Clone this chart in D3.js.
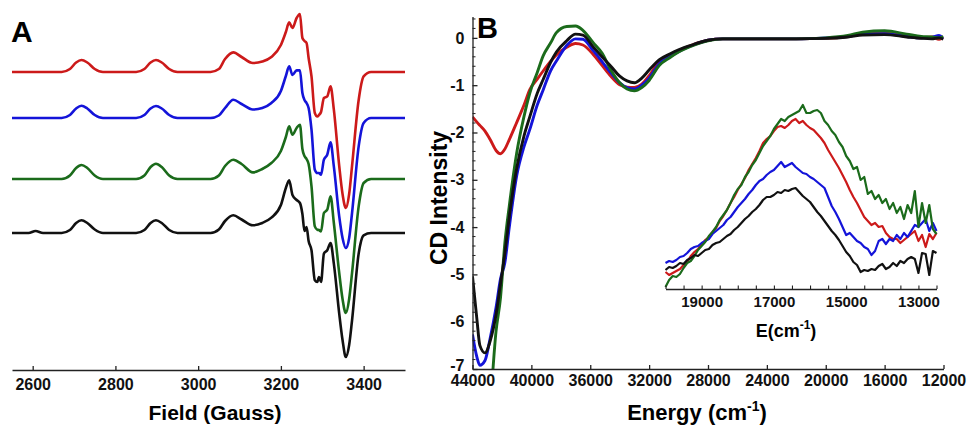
<!DOCTYPE html>
<html>
<head>
<meta charset="utf-8">
<script src="https://cdn.jsdelivr.net/npm/d3@7"></script>
<style>
  body { margin: 0; background: #fff; }
  svg { font-family: "Liberation Sans", Arial, sans-serif; font-weight: bold; }
</style>
</head>
<body>
<svg width="968" height="425"></svg>
<script>
// ---- panel A: EPR spectra (field in Gauss, intensity in a.u. above each baseline)
const eprField = [2550, 2590, 2607, 2625, 2670, 2690, 2705, 2718, 2732, 2750, 2770,
  2850, 2870, 2885, 2898, 2912, 2930, 2950, 3030, 3050, 3065, 3085, 3105, 3132, 3155,
  3177, 3200, 3212, 3220, 3228, 3238, 3246, 3252, 3257, 3262, 3267, 3274, 3282, 3288,
  3292, 3297, 3304, 3312, 3320, 3328, 3341, 3349, 3357, 3365, 3372, 3388, 3400, 3418,
  3440, 3500];
const eprRed = [0, 0, 0, 0, 0, 3, 9.5, 12, 9.5, 3, 0,
  0, 3, 9.5, 12, 9.5, 3, 0, 0, 3, 13, 19.6, 15, 9, 10.5,
  15, 27, 40, 49.6, 44, 54, 58, 34, 31, 29, 14, -4.4, -41, -44.4,
  -43, -40, -26, -24.4, -14.4, -37.7, -94, -122, -136, -122, -94, -28, -4.4, 0,
  0, 0];
const eprBlue = [0, 0, 0, 0, 0, 3, 9.5, 12.3, 9.5, 3, 0,
  0, 3, 9.5, 12, 9.5, 3, 0, 0, 2.5, 10, 18.3, 14, 8.5, 10,
  15, 27, 42, 51.6, 43, 47.6, 47.6, 25, 18, 15, 10, -11.7, -51.7, -55,
  -55, -56.7, -41.7, -36.7, -24.4, -48.4, -98.4, -120, -130, -120, -95, -28.4, -5, 0,
  0, 0];
const eprGreen = [0, 0, 0, 0, 0, 3.5, 11, 14, 11, 3.5, 0,
  0, 3.5, 12, 15.3, 12, 3.5, 0, 0, 3.5, 13, 19.3, 15, 6.6, 10,
  16, 28, 42, 52.6, 44.3, 51, 54.3, 30, 23, 20, 15, -7.4, -47.4, -50.7,
  -51, -52.4, -34, -30.7, -17.4, -44, -94, -120, -134, -120, -94, -27.4, -4, 0,
  0, 0];
const eprBlack = [0, 0, 2, 0, 0, 3, 10, 12.7, 10, 3.5, 0,
  0, 3, 10, 12.7, 10, 3, 0, 0, 3.5, 12, 17.7, 13.5, 7.7, 10,
  15.4, 28, 45, 52.7, 38, 33, 30, 19, 2, 6, -8, -17.3, -47.3, -49,
  -44, -49, -20.6, -17.3, -10, -30.6, -80.6, -107, -124, -112, -87.3, -20.6, -2.3, 0,
  0, 0];
const eprOffsets = [298, 252, 191, 137];   // red, blue, green, black
const eprTicks = [2600, 2800, 3000, 3200, 3400];

// ---- panel B: CD spectra (energy in cm-1)
const cdEnergy = [44000, 43700, 43500, 43150, 42800, 42400, 42100, 41800, 41500, 41000,
  40500, 40100, 39600, 39200, 38700, 38300, 37600, 37000, 36500, 35800, 35200, 34600,
  34000, 33500, 33000, 32500, 32000, 31300, 30600, 30000, 29000, 28000, 27000, 25000,
  22000, 20000, 18500, 17500, 16000, 14500, 13500, 12800, 12300, 12000];
const cdRed = [-1.67, -1.78, -1.85, -1.97, -2.15, -2.38, -2.45, -2.35, -2.15, -1.79,
  -1.42, -1.09, -0.87, -0.7, -0.5, -0.36, -0.2, -0.12, -0.15, -0.35, -0.58, -0.81,
  -0.99, -1.04, -1.05, -0.98, -0.8, -0.5, -0.37, -0.27, -0.14, -0.05, -0.02, -0.02,
  -0.02, -0.01, 0.03, 0.08, 0.1, 0.04, 0.0, 0.02, -0.03, 0.02];
const cdBlue = [-6.27, -6.75, -6.92, -6.82, -6.35, -5.7, -5.1, -4.75, -4.0, -2.92,
  -2.3, -1.93, -1.42, -1.1, -0.7, -0.49, -0.16, -0.02, -0.03, -0.27, -0.5, -0.74,
  -0.95, -1.05, -1.08, -1.0, -0.85, -0.54, -0.4, -0.29, -0.15, -0.05, -0.02, -0.02,
  -0.02, 0.0, 0.03, 0.08, 0.09, 0.03, 0.0, 0.01, 0.05, -0.02];
const cdGreen = [null, null, null, -8.3, -7.7, -6.2, -5.5, -4.33, -3.55, -2.44,
  -1.66, -1.16, -0.73, -0.38, -0.11, 0.11, 0.24, 0.25, 0.16, -0.1, -0.32, -0.68,
  -0.95, -1.08, -1.12, -1.05, -0.9, -0.58, -0.42, -0.3, -0.16, -0.06, -0.02, -0.02,
  -0.02, 0.0, 0.05, 0.12, 0.15, 0.08, 0.03, 0.02, 0.0, 0.03];
const cdBlack = [-5.04, -5.95, -6.5, -6.66, -6.41, -5.85, -5.2, -4.55, -3.78, -2.76,
  -2.07, -1.66, -1.17, -0.88, -0.52, -0.3, -0.06, 0.08, 0.06, -0.19, -0.4, -0.6,
  -0.81, -0.91, -0.95, -0.85, -0.68, -0.46, -0.34, -0.25, -0.14, -0.05, -0.02, -0.02,
  -0.02, -0.01, 0.02, 0.06, 0.07, 0.02, -0.01, -0.02, 0.0, -0.03];
const cdXTicks = [44000, 40000, 36000, 32000, 28000, 24000, 20000, 16000, 12000];
const cdYTicks = [0, -1, -2, -3, -4, -5, -6, -7];

// ---- inset: visible band (a.u.)
const insetEnergy = [20000, 19900, 19800, 19700, 19600, 19500, 19400, 19300, 19200, 19100,
  19000, 18900, 18800, 18700, 18600, 18500, 18400, 18300, 18200, 18100,
  18000, 17900, 17800, 17700, 17600, 17500, 17400, 17300, 17200, 17100,
  17000, 16900, 16800, 16700, 16600, 16500, 16400, 16300, 16200, 16100,
  16000, 15900, 15800, 15700, 15600, 15500, 15400, 15300, 15200, 15100,
  15000, 14900, 14800, 14700, 14600, 14500, 14400, 14300, 14200, 14100,
  14000, 13900, 13800, 13700, 13600, 13500, 13400, 13300, 13200, 13100,
  13000, 12900, 12800, 12700, 12600, 12500];
const insetRed = [17, 14, 16, 18, 20, 24, 27, 33, 37, 40,
  44, 49, 52, 57, 61, 68, 73, 79, 86, 92,
  99, 105, 111, 119, 125, 131, 138, 146, 150, 153,
  158, 162, 163, 161, 164, 168, 170, 166, 168, 164,
  161, 159, 155, 151, 146, 139, 133, 127, 121, 114,
  107, 99, 92, 86, 79, 72, 68, 64, 66, 62,
  63, 56, 52, 50, 50, 46, 49, 52, 55, 58,
  48, 54, 42, 55, 50, 56];
const insetBlue = [26, 28, 27, 29, 32, 33, 36, 40, 42, 43,
  46, 48, 50, 55, 58, 61, 64, 69, 72, 77,
  82, 86, 90, 95, 99, 104, 108, 110, 114, 117,
  119, 123, 127, 122, 124, 126, 122, 119, 116, 115,
  112, 110, 107, 104, 101, 92, 83, 77, 70, 62,
  54, 56, 52, 48, 46, 42, 40, 34, 38, 48,
  50, 45, 50, 48, 54, 50, 56, 52, 58, 64,
  62, 66, 70, 58, 66, 58];
const insetGreen = [2, 9, 13, 12, 15, 21, 26, 28, 33, 39,
  43, 47, 53, 57, 62, 69, 74, 79, 86, 94,
  100, 104, 112, 117, 124, 129, 136, 143, 148, 153,
  160, 165, 170, 168, 172, 174, 176, 178, 184, 176,
  176, 178, 179, 176, 168, 164, 158, 154, 147, 142,
  133, 128, 120, 122, 109, 112, 95, 98, 90, 94,
  86, 90, 80, 86, 76, 82, 70, 84, 76, 98,
  62, 86, 66, 84, 60, 55];
const insetBlack = [19, 22, 21, 23, 26, 25, 29, 31, 34, 33,
  36, 39, 40, 44, 46, 47, 50, 53, 55, 59,
  62, 66, 70, 73, 77, 80, 84, 89, 92, 92,
  94, 97, 96, 99, 98, 100, 101, 97, 93, 90,
  87, 82, 77, 73, 68, 63, 58, 54, 49, 43,
  37, 33, 27, 24, 17, 19, 18, 20, 19, 23,
  25, 20, 22, 26, 23, 28, 26, 30, 32, 30,
  16, 36, 35, 14, 38, 36];
const insetTicks = [19000, 17000, 15000, 13000];

const colors = ['#cc1a1a', '#1414d9', '#1b6b1b', '#111111'];

const svg = d3.select('svg');

function styleAxis(g, size){
  g.select('.domain').attr('stroke', '#222').attr('stroke-width', 1.3);
  g.selectAll('.tick line').attr('stroke', '#222').attr('stroke-width', 1.3);
  g.selectAll('text').attr('font-size', size).attr('font-weight', 'bold').attr('fill', '#111')
   .attr('font-family', '"Liberation Sans", Arial, sans-serif');
}

// ================= panel A =================
const xA = d3.scaleLinear().domain([2550, 3500]).range([12, 405]);
const yA = d3.scaleLinear().domain([0, 360]).range([370, 10]);

[eprRed, eprBlue, eprGreen, eprBlack].forEach((vals, k) => {
  const pts = eprField.map((f, i) => [f, vals[i] + eprOffsets[k]]);
  svg.append('path')
     .datum(pts)
     .attr('fill', 'none')
     .attr('stroke', colors[k])
     .attr('stroke-width', 2.6)
     .attr('stroke-linejoin', 'round')
     .attr('d', d3.line().x(d => xA(d[0])).y(d => yA(d[1])).curve(d3.curveMonotoneX));
});

const axA = svg.append('g').attr('transform', 'translate(0,370)')
  .call(d3.axisBottom(xA).tickValues(eprTicks).tickFormat(d3.format('d'))
    .tickSizeInner(-4).tickSizeOuter(0).tickPadding(9));
styleAxis(axA, 16);

svg.append('text').attr('x', 215).attr('y', 420).attr('text-anchor', 'middle')
   .attr('font-size', 21).text('Field (Gauss)');
svg.append('text').attr('x', 11).attr('y', 42).attr('font-size', 30).text('A');

// ================= panel B =================
const xB = d3.scaleLinear().domain([44000, 12000]).range([472.5, 943.5]);
const yB = d3.scaleLinear().domain([-7, 0.45]).range([369, 16.6]);

svg.append('clipPath').attr('id', 'clipB').append('rect')
   .attr('x', xB(44000)).attr('y', yB(0.45)).attr('width', xB(12000) - xB(44000))
   .attr('height', yB(-7) - yB(0.45));

const gB = svg.append('g').attr('clip-path', 'url(#clipB)');
[cdRed, cdBlue, cdGreen, cdBlack].forEach((vals, k) => {
  const pts = cdEnergy.map((e, i) => [e, vals[i]]);
  gB.append('path')
    .datum(pts)
    .attr('fill', 'none')
    .attr('stroke', colors[k])
    .attr('stroke-width', 2.9)
    .attr('stroke-linejoin', 'round')
    .attr('d', d3.line().defined(d => d[1] !== null)
      .x(d => xB(d[0])).y(d => yB(d[1])).curve(d3.curveMonotoneX));
});

// minor y ticks every 0.2
const minorY = d3.range(-7, 0.45, 0.2).map(v => +v.toFixed(1)).filter(v => !cdYTicks.includes(v));
svg.append('g').selectAll('line').data(minorY).join('line')
   .attr('x1', xB(44000)).attr('x2', xB(44000) + 3)
   .attr('y1', d => yB(d)).attr('y2', d => yB(d))
   .attr('stroke', '#222').attr('stroke-width', 1);

const axBy = svg.append('g').attr('transform', `translate(${xB(44000)},0)`)
  .call(d3.axisLeft(yB).tickValues(cdYTicks).tickFormat(d3.format('d'))
    .tickSizeInner(-5).tickSizeOuter(0).tickPadding(8));
styleAxis(axBy, 16);
axBy.selectAll('text')
    .text(d => d < 0 ? '-' + Math.abs(d) : d)
    .attr('dy', d => d === -7 ? '0.1em' : '0.32em');

const axBx = svg.append('g').attr('transform', `translate(0,${yB(-7)})`)
  .call(d3.axisBottom(xB).tickValues(cdXTicks).tickFormat(d3.format('d'))
    .tickSizeInner(-4).tickSizeOuter(0).tickPadding(6));
styleAxis(axBx, 16);

const eLabel = svg.append('text').attr('x', 697).attr('y', 420).attr('text-anchor', 'middle')
   .attr('font-size', 22);
eLabel.append('tspan').text('Energy (cm');
eLabel.append('tspan').attr('dy', -9).attr('font-size', 14).text('-1');
eLabel.append('tspan').attr('dy', 9).text(')');

svg.append('text').attr('transform', 'translate(447,198) rotate(-90)')
   .attr('text-anchor', 'middle').attr('font-size', 23).text('CD Intensity');
svg.append('text').attr('x', 477).attr('y', 38).attr('font-size', 29).text('B');

// ================= inset =================
const xI = d3.scaleLinear().domain([20000, 12500]).range([665.5, 936.5]);
const yI = d3.scaleLinear().domain([0, 200]).range([289, 89]);

[insetRed, insetBlue, insetGreen, insetBlack].forEach((vals, k) => {
  const pts = insetEnergy.map((e, i) => [e, vals[i]]);
  svg.append('path')
     .datum(pts)
     .attr('fill', 'none')
     .attr('stroke', colors[k])
     .attr('stroke-width', 2.2)
     .attr('stroke-linejoin', 'round')
     .attr('d', d3.line().x(d => xI(d[0])).y(d => yI(d[1])));
});

const axI = svg.append('g').attr('transform', 'translate(0,289)')
  .call(d3.axisBottom(xI).tickValues(d3.range(20000, 12499, -500)).tickSizeInner(-3.5)
    .tickSizeOuter(0).tickPadding(7).tickFormat(d => insetTicks.includes(d) ? d : ''));
styleAxis(axI, 15);
axI.selectAll('.tick line').attr('stroke-width', 1.1);

const iLabel = svg.append('text').attr('x', 786).attr('y', 337).attr('text-anchor', 'middle')
   .attr('font-size', 18);
iLabel.append('tspan').text('E(cm');
iLabel.append('tspan').attr('dy', -8).attr('font-size', 12).text('-1');
iLabel.append('tspan').attr('dy', 8).text(')');
</script>
</body>
</html>
